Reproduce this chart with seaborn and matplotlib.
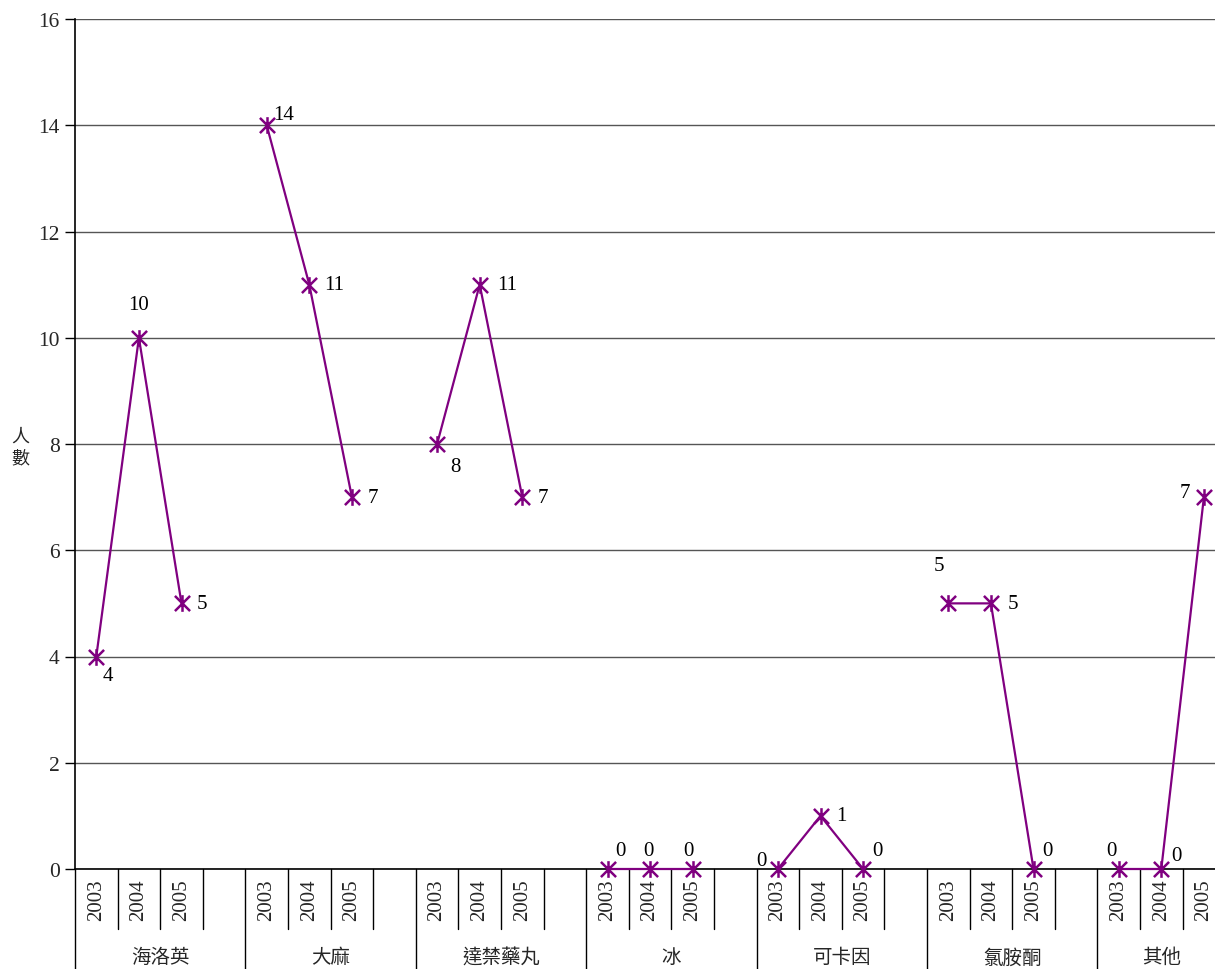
import matplotlib
matplotlib.use('Agg')
import matplotlib.pyplot as plt
import matplotlib.transforms as mtransforms
from matplotlib.path import Path
import numpy as np
import pandas as pd
import seaborn as sns

drugs = ['海洛英', '大麻', '達禁藥丸', '冰', '可卡因', '氯胺酮', '其他']
years = ['2003', '2004', '2005']
heroin = [4, 10, 5]
cannabis = [14, 11, 7]
ecstasy = [8, 11, 7]
ice = [0, 0, 0]
cocaine = [0, 1, 0]
ketamine = [5, 5, 0]
others = [0, 0, 7]
counts = [heroin, cannabis, ecstasy, ice, cocaine, ketamine, others]

# label offsets (points) so they sit roughly where Excel put them
label_offsets = [
    [(8, -14), (0, 24), (15, 0)],
    [(12, 8), (18, 0), (15, 0)],
    [(13, -16), (20, 0), (15, 0)],
    [(9, 13), (-1, 13), (-3, 13)],
    [(-12, 6), (15, 0), (10, 13)],
    [(-7, 27), (16, 0), (10, 13)],
    [(-5, 13), (11, 10), (-14, 3)],
]

SLOTS = 4  # three years + an empty slot per drug
purple = '#800080'

# Excel style star marker: an X with a vertical bar through it
star = Path([(-1, -1), (1, 1), (-1, 1), (1, -1), (0, -1.1), (0, 1.1)],
            [Path.MOVETO, Path.LINETO, Path.MOVETO, Path.LINETO,
             Path.MOVETO, Path.LINETO])

rows = []
for g, drug in enumerate(drugs):
    for j, yr in enumerate(years):
        rows.append({'drug': drug, 'year': yr, 'pos': g * SLOTS + j + 0.5,
                     'count': counts[g][j]})
df = pd.DataFrame(rows)

sns.set_style('white')
plt.rcParams['font.family'] = ['Liberation Serif', 'Noto Sans CJK TC']

fig = plt.figure(figsize=(12.15, 9.7), dpi=100)
ax = fig.add_axes([75 / 1215, 100 / 970, 1 - 75 / 1215, 850 / 970])

sns.lineplot(data=df, x='pos', y='count', units='drug', estimator=None,
             color=purple, linewidth=1.6, marker=star, markersize=12,
             markeredgewidth=1.8, markeredgecolor=purple, ax=ax,
             clip_on=False, zorder=5)

for g in range(len(drugs)):
    for j in range(len(years)):
        ax.annotate(str(counts[g][j]), (g * SLOTS + j + 0.5, counts[g][j]),
                    xytext=label_offsets[g][j], textcoords='offset points',
                    ha='center', va='center', fontsize=15, color='black')

ax.set_ylim(0, 16)
ax.set_yticks(range(0, 17, 2))
ax.set_xlim(0, (1215 - 75) / 42.6)
ax.set_xticks([])
ax.set_xlabel('')
ax.set_ylabel('')
ax.grid(axis='y', color='#555555', linewidth=1)
ax.set_axisbelow(True)
for side in ['top', 'right', 'bottom']:
    ax.spines[side].set_visible(False)
ax.spines['left'].set_color('black')
ax.spines['left'].set_linewidth(1.2)
ax.axhline(0, color='black', linewidth=1.2, zorder=3, clip_on=False)
ax.tick_params(axis='y', direction='out', length=7, width=1, color='black',
               labelsize=15.5, left=True, pad=4)

# two-level category axis under the plot
trans = mtransforms.blended_transform_factory(ax.transData, ax.transAxes)
short = -60 / 850
long_ = -100 / 850
n_slots = SLOTS * len(drugs)
for s in range(n_slots):
    y_end = long_ if s % SLOTS == 0 else short
    ax.plot([s, s], [0, y_end], transform=trans, color='black', linewidth=1,
            clip_on=False)
for g, drug in enumerate(drugs):
    for j, yr in enumerate(years):
        ax.text(g * SLOTS + j + 0.5, -30 / 850, yr, transform=trans,
                rotation=90, ha='center', va='center', fontsize=15)
    n = SLOTS if g < len(drugs) - 1 else len(years)
    ax.text(g * SLOTS + n / 2, -88 / 850, drug, transform=trans,
            ha='center', va='center', fontsize=14)

fig.text(20 / 1215, 1 - 448 / 970, '人\n數', ha='center', va='center',
         fontsize=13, linespacing=1.4)

fig.savefig('out.png', dpi=100)
